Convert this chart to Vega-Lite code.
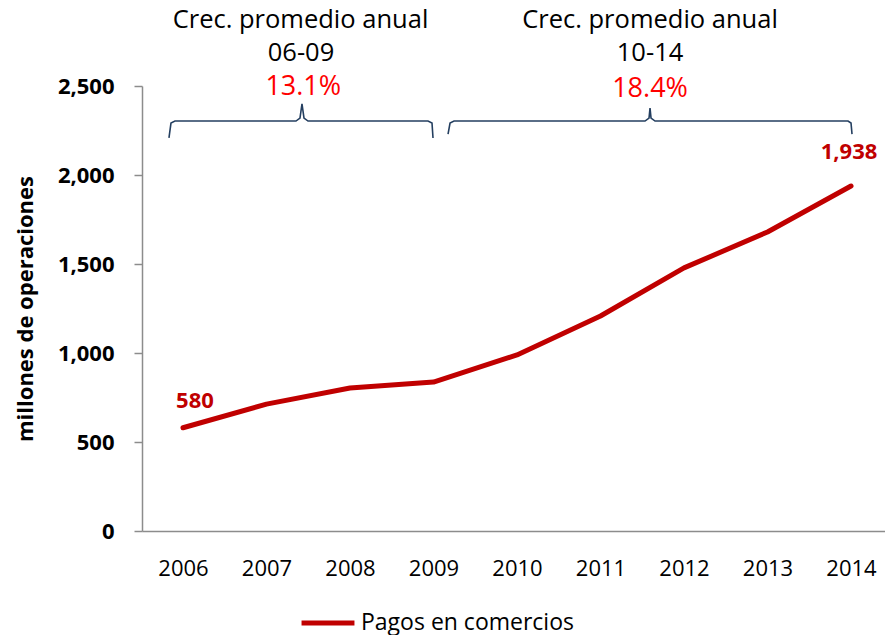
{
  "$schema": "https://vega.github.io/schema/vega-lite/v6.json",
  "width": 743,
  "height": 445,
  "autosize": {"type": "none"},
  "padding": {"left": 142, "top": 86, "right": 0, "bottom": 104},
  "background": "white",
  "config": {
    "view": {"stroke": null},
    "font": "Open Sans",
    "text": {"font": "Open Sans"}
  },
  "datasets": {
    "series": [
      {"year": 2006, "value": 580, "serie": "Pagos en comercios"},
      {"year": 2007, "value": 713, "serie": "Pagos en comercios"},
      {"year": 2008, "value": 803, "serie": "Pagos en comercios"},
      {"year": 2009, "value": 837, "serie": "Pagos en comercios"},
      {"year": 2010, "value": 989, "serie": "Pagos en comercios"},
      {"year": 2011, "value": 1208, "serie": "Pagos en comercios"},
      {"year": 2012, "value": 1478, "serie": "Pagos en comercios"},
      {"year": 2013, "value": 1680, "serie": "Pagos en comercios"},
      {"year": 2014, "value": 1938, "serie": "Pagos en comercios"}
    ],
    "brackets": [
      {"b": 1, "o": 1, "year": 2005.832, "value": 2208},
      {"b": 1, "o": 2, "year": 2005.856, "value": 2292},
      {"b": 1, "o": 3, "year": 2005.904, "value": 2303},
      {"b": 1, "o": 4, "year": 2007.353, "value": 2303},
      {"b": 1, "o": 5, "year": 2007.401, "value": 2320},
      {"b": 1, "o": 6, "year": 2007.425, "value": 2399},
      {"b": 1, "o": 7, "year": 2007.449, "value": 2320},
      {"b": 1, "o": 8, "year": 2007.497, "value": 2303},
      {"b": 1, "o": 9, "year": 2008.934, "value": 2303},
      {"b": 1, "o": 10, "year": 2008.982, "value": 2292},
      {"b": 1, "o": 11, "year": 2008.994, "value": 2208},
      {"b": 2, "o": 1, "year": 2009.174, "value": 2230},
      {"b": 2, "o": 2, "year": 2009.198, "value": 2292},
      {"b": 2, "o": 3, "year": 2009.246, "value": 2303},
      {"b": 2, "o": 4, "year": 2011.533, "value": 2303},
      {"b": 2, "o": 5, "year": 2011.581, "value": 2320},
      {"b": 2, "o": 6, "year": 2011.593, "value": 2376},
      {"b": 2, "o": 7, "year": 2011.605, "value": 2320},
      {"b": 2, "o": 8, "year": 2011.653, "value": 2303},
      {"b": 2, "o": 9, "year": 2013.964, "value": 2303},
      {"b": 2, "o": 10, "year": 2014.0, "value": 2292},
      {"b": 2, "o": 11, "year": 2014.012, "value": 2230}
    ],
    "notes": [
      {"year": 2007.407, "value": 2868, "label": "Crec. promedio anual", "kind": "head"},
      {"year": 2007.413, "value": 2685, "label": "06-09", "kind": "head"},
      {"year": 2007.44, "value": 2492, "label": "13.1%", "kind": "pct"},
      {"year": 2011.593, "value": 2873, "label": "Crec. promedio anual", "kind": "head"},
      {"year": 2011.593, "value": 2685, "label": "10-14", "kind": "head"},
      {"year": 2011.593, "value": 2481, "label": "18.4%", "kind": "pct"}
    ]
  },
  "encoding": {
    "x": {
      "field": "year",
      "type": "quantitative",
      "scale": {"domain": [2005.509, 2014.407], "nice": false, "zero": false},
      "axis": {
        "title": null,
        "values": [2006, 2007, 2008, 2009, 2010, 2011, 2012, 2013, 2014],
        "format": "d",
        "grid": false,
        "ticks": false,
        "labelPadding": 27,
        "labelFontSize": 22,
        "labelColor": "#000000",
        "domainColor": "#8c8c8c",
        "domainWidth": 1.5,
        "labelFlush": false
      }
    },
    "y": {
      "field": "value",
      "type": "quantitative",
      "scale": {"domain": [0, 2500], "nice": false},
      "axis": {
        "title": "millones de operaciones",
        "titleFontSize": 22,
        "titleFontWeight": "bold",
        "titleColor": "#000000",
        "titlePadding": 20,
        "values": [0, 500, 1000, 1500, 2000, 2500],
        "format": ",d",
        "grid": false,
        "tickSize": 8,
        "tickColor": "#8c8c8c",
        "tickWidth": 1.5,
        "labelPadding": 20,
        "labelFontSize": 22,
        "labelFontWeight": "bold",
        "labelColor": "#000000",
        "domainColor": "#8c8c8c",
        "domainWidth": 1.5
      }
    }
  },
  "layer": [
    {
      "data": {"name": "brackets"},
      "mark": {"type": "line", "color": "#243F60", "strokeWidth": 1.6},
      "encoding": {
        "detail": {"field": "b", "type": "nominal"},
        "order": {"field": "o", "type": "quantitative"}
      }
    },
    {
      "data": {"name": "series"},
      "mark": {"type": "line", "strokeWidth": 5, "strokeCap": "round", "strokeJoin": "round"},
      "encoding": {
        "color": {
          "field": "serie",
          "type": "nominal",
          "scale": {"range": ["#C00000"]},
          "legend": {
            "title": null,
            "orient": "none",
            "legendX": 157,
            "legendY": 508,
            "symbolType": "stroke",
            "symbolSize": 2800,
            "symbolStrokeWidth": 5,
            "labelFontSize": 23,
            "labelColor": "#000000",
            "labelOffset": 4,
            "labelLimit": 400
          }
        }
      }
    },
    {
      "data": {"name": "series"},
      "transform": [{"filter": "datum.year == 2006"}],
      "mark": {"type": "text", "dx": 12, "dy": -27, "fontSize": 22, "fontWeight": "bold", "color": "#C00000"},
      "encoding": {"text": {"field": "value", "type": "quantitative", "format": ",d"}}
    },
    {
      "data": {"name": "series"},
      "transform": [{"filter": "datum.year == 2014"}],
      "mark": {"type": "text", "dx": -2, "dy": -34, "fontSize": 22, "fontWeight": "bold", "color": "#C00000"},
      "encoding": {"text": {"field": "value", "type": "quantitative", "format": ",d"}}
    },
    {
      "data": {"name": "notes"},
      "transform": [{"filter": "datum.kind == 'head'"}],
      "mark": {"type": "text", "fontSize": 25.5, "color": "#000000"},
      "encoding": {"text": {"field": "label", "type": "nominal"}}
    },
    {
      "data": {"name": "notes"},
      "transform": [{"filter": "datum.kind == 'pct'"}],
      "mark": {"type": "text", "fontSize": 27, "color": "#FF0000"},
      "encoding": {"text": {"field": "label", "type": "nominal"}}
    }
  ]
}
